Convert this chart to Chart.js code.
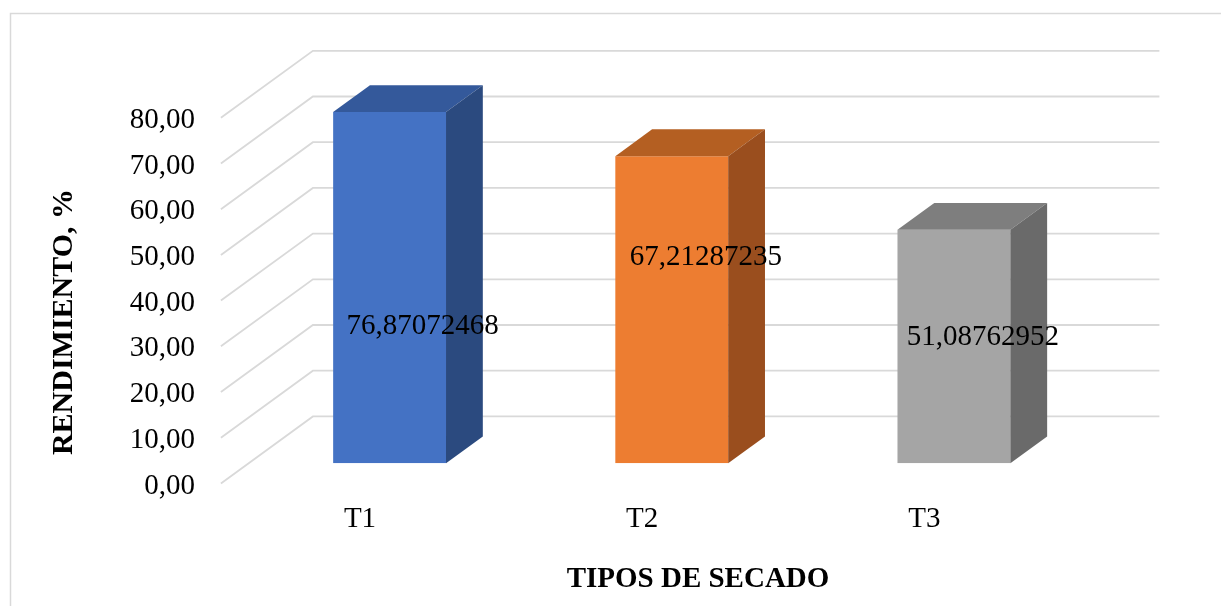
<!DOCTYPE html>
<html>
<head>
<meta charset="utf-8">
<script src="https://cdn.jsdelivr.net/npm/chart.js@4.4.1/dist/chart.umd.min.js"></script>
<style>
  html, body { margin: 0; padding: 0; background: #fff; }
  canvas { display: block; }
</style>
</head>
<body>
<canvas id="rendChart" width="1221" height="606"></canvas>
<script>
// data
const categories = ['T1', 'T2', 'T3'];
const rendimiento = [76.87072468, 67.21287235, 51.08762952];
const yMin = 0;
const yMax = 80;
const yStep = 10;

// bar face colours (front, top, side)
const frontColors = ['#4472C4', '#ED7D31', '#A5A5A5'];
const topColors = ['#34599B', '#B45F22', '#7E7E7E'];
const sideColors = ['#2B4A7F', '#9A4E1E', '#6A6A6A'];

// fake 3D: depth vector of the whole floor, bars sit between 0.3 and 0.7 of it
const DEPTH = { x: 92, y: -67 };
const FRONT = 0.3;
const BAR_DEPTH = 0.4;

// where each value label sits (x shift, fraction of bar height)
const labelPlace = [{ dx: 33, lift: 0.39 }, { dx: 34, lift: 0.67 }, { dx: 29, lift: 0.54 }];

const SERIF = "'Liberation Serif', 'Times New Roman', serif";
const fmt = v => String(v).replace('.', ',');

const box3d = {
  id: 'box3d',
  beforeDraw(chart) {
    const ctx = chart.ctx;
    ctx.save();
    ctx.strokeStyle = '#D9D9D9';
    ctx.lineWidth = 1.5;
    ctx.strokeRect(10.5, 13.5, chart.width + 10, chart.height + 10);
    ctx.restore();
  },
  beforeDatasetsDraw(chart) {
    const { ctx, scales: { x, y } } = chart;
    const ox = -FRONT * DEPTH.x, oy = -FRONT * DEPTH.y;
    ctx.save();
    ctx.strokeStyle = '#D9D9D9';
    ctx.lineWidth = 1.8;
    ctx.beginPath();
    for (let v = yMin; v <= yMax; v += yStep) {
      const py = y.getPixelForValue(v) + oy;
      const px = x.left + ox;
      ctx.moveTo(px, py);
      ctx.lineTo(px + DEPTH.x, py + DEPTH.y);
      ctx.lineTo(x.right + ox + DEPTH.x, py + DEPTH.y);
    }
    ctx.stroke();
    ctx.restore();
  },
  afterDatasetsDraw(chart) {
    const ctx = chart.ctx;
    const dx = BAR_DEPTH * DEPTH.x, dy = BAR_DEPTH * DEPTH.y;
    const bars = chart.getDatasetMeta(0).data;
    ctx.save();
    bars.forEach((bar, i) => {
      const l = bar.x - bar.width / 2, r = bar.x + bar.width / 2;
      const t = bar.y, b = bar.base;
      // top face
      ctx.fillStyle = topColors[i];
      ctx.beginPath();
      ctx.moveTo(l, t);
      ctx.lineTo(l + dx, t + dy);
      ctx.lineTo(r + dx, t + dy);
      ctx.lineTo(r, t);
      ctx.closePath();
      ctx.fill();
      // side face
      ctx.fillStyle = sideColors[i];
      ctx.beginPath();
      ctx.moveTo(r, t);
      ctx.lineTo(r + dx, t + dy);
      ctx.lineTo(r + dx, b + dy);
      ctx.lineTo(r, b);
      ctx.closePath();
      ctx.fill();
    });
    // value labels
    ctx.fillStyle = '#000';
    ctx.font = '29px ' + SERIF;
    ctx.textAlign = 'center';
    ctx.textBaseline = 'middle';
    bars.forEach((bar, i) => {
      const p = labelPlace[i];
      ctx.fillText(fmt(rendimiento[i]), bar.x + p.dx, bar.base - p.lift * (bar.base - bar.y));
    });
    ctx.restore();
  },
  afterDraw(chart) {
    const ctx = chart.ctx;
    ctx.save();
    ctx.fillStyle = '#000';
    ctx.textAlign = 'center';
    ctx.textBaseline = 'middle';
    ctx.font = 'bold 29px ' + SERIF;
    ctx.fillText('TIPOS DE SECADO', 698, 580);
    ctx.translate(64, 322);
    ctx.rotate(-Math.PI / 2);
    ctx.font = 'bold 30px ' + SERIF;
    ctx.fillText('RENDIMIENTO, %', 0, 0);
    ctx.restore();
  }
};

new Chart(document.getElementById('rendChart'), {
  type: 'bar',
  data: {
    labels: categories,
    datasets: [{
      data: rendimiento,
      backgroundColor: frontColors,
      borderWidth: 0,
      barPercentage: 0.4,
      categoryPercentage: 1
    }]
  },
  options: {
    responsive: false,
    animation: false,
    devicePixelRatio: 1,
    layout: { padding: { top: 97.7, right: 126, left: 0, bottom: 0 } },
    plugins: {
      legend: { display: false },
      tooltip: { enabled: false }
    },
    scales: {
      x: {
        grid: { display: false, drawTicks: false },
        border: { display: false },
        ticks: {
          color: '#000',
          font: { family: SERIF, size: 29 },
          padding: 39,
          labelOffset: -FRONT * DEPTH.x - 2
        },
        afterFit(scale) { scale.height = 142.7; }
      },
      y: {
        min: yMin,
        max: yMax,
        grid: { display: false, drawTicks: false },
        border: { display: false },
        ticks: {
          stepSize: yStep,
          color: '#000',
          font: { family: SERIF, size: 29 },
          padding: 53.5,
          labelOffset: -FRONT * DEPTH.y + 2.5,
          callback: v => v.toFixed(2).replace('.', ',')
        },
        afterFit(scale) { scale.width = 248.5; }
      }
    }
  },
  plugins: [box3d]
});
</script>
</body>
</html>
